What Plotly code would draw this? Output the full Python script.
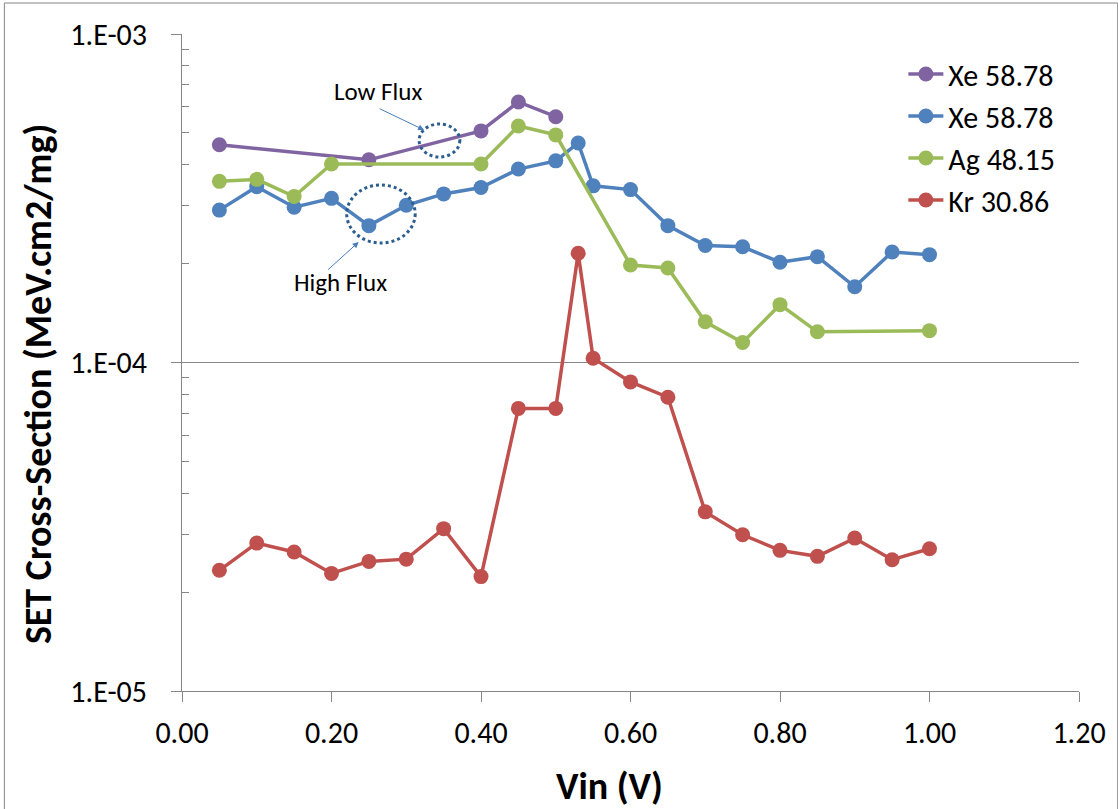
import plotly.graph_objects as go

# ---- data ----
x_xe_low = [0.05, 0.25, 0.40, 0.45, 0.50]
y_xe_low = [4.60e-4, 4.14e-4, 5.07e-4, 6.21e-4, 5.60e-4]

x_xe_high = [0.05, 0.10, 0.15, 0.20, 0.25, 0.30, 0.35, 0.40, 0.45, 0.50, 0.53,
             0.55, 0.60, 0.65, 0.70, 0.75, 0.80, 0.85, 0.90, 0.95, 1.00]
y_xe_high = [2.91e-4, 3.43e-4, 2.97e-4, 3.16e-4, 2.61e-4, 3.01e-4, 3.26e-4, 3.41e-4,
             3.88e-4, 4.11e-4, 4.66e-4, 3.45e-4, 3.36e-4, 2.61e-4, 2.27e-4, 2.25e-4,
             2.02e-4, 2.10e-4, 1.70e-4, 2.17e-4, 2.13e-4]

x_ag = [0.05, 0.10, 0.15, 0.20, 0.40, 0.45, 0.50, 0.60, 0.65, 0.70, 0.75, 0.80, 0.85, 1.00]
y_ag = [3.56e-4, 3.61e-4, 3.20e-4, 4.02e-4, 4.02e-4, 5.25e-4, 4.93e-4, 1.98e-4,
        1.94e-4, 1.33e-4, 1.15e-4, 1.50e-4, 1.24e-4, 1.25e-4]

x_kr = [0.05, 0.10, 0.15, 0.20, 0.25, 0.30, 0.35, 0.40, 0.45, 0.50, 0.53,
        0.55, 0.60, 0.65, 0.70, 0.75, 0.80, 0.85, 0.90, 0.95, 1.00]
y_kr = [2.33e-5, 2.82e-5, 2.65e-5, 2.28e-5, 2.48e-5, 2.52e-5, 3.12e-5, 2.23e-5,
        7.25e-5, 7.25e-5, 2.15e-4, 1.03e-4, 8.73e-5, 7.84e-5, 3.51e-5, 2.99e-5,
        2.68e-5, 2.57e-5, 2.92e-5, 2.51e-5, 2.71e-5]

series_names = ["Xe 58.78", "Xe 58.78", "Ag 48.15", "Kr 30.86"]
x_tick_vals = [0.0, 0.2, 0.4, 0.6, 0.8, 1.0, 1.2]
x_tick_text = ["0.00", "0.20", "0.40", "0.60", "0.80", "1.00", "1.20"]
y_tick_vals = [1e-5, 1e-4, 1e-3]
y_tick_text = ["1.E-05", "1.E-04", "1.E-03"]
y_minor_vals = [k * 1e-5 for k in range(2, 10)] + [k * 1e-4 for k in range(2, 10)]

colors = ["#8064A2", "#4F81BD", "#9BBB59", "#C0504D"]
FONT = "Carlito, Calibri, Lato, sans-serif"

fig = go.Figure()
for xs, ys, name, c in zip([x_xe_low, x_xe_high, x_ag, x_kr],
                           [y_xe_low, y_xe_high, y_ag, y_kr],
                           series_names, colors):
    fig.add_trace(go.Scatter(x=xs, y=ys, name=name, mode="lines+markers",
                             line=dict(color=c, width=3.5),
                             marker=dict(color=c, size=15)))

W, H = 1118, 809
L, R, T, B = 182, 32, 34, 118
pw, ph = W - L - R, H - T - B


def px(x):
    return (x - L) / pw


def py(y):
    return (H - B - y) / ph


grid = "#868686"
fig.update_layout(
    width=W, height=H,
    margin=dict(l=L, r=R, t=T, b=B),
    paper_bgcolor="white", plot_bgcolor="white",
    font=dict(family=FONT, color="black"),
    showlegend=True,
    legend=dict(x=px(909), y=py(48), xanchor="left", yanchor="top",
                font=dict(size=30, family=FONT), bgcolor="rgba(0,0,0,0)",
                itemwidth=35),
    xaxis=dict(range=[0, 1.2], tickvals=x_tick_vals, ticktext=x_tick_text,
               ticks="outside", ticklen=10, tickcolor=grid, showgrid=False,
               showline=True, linecolor=grid, linewidth=1, zeroline=False,
               tickfont=dict(size=30, family=FONT), ticklabelstandoff=5),
    yaxis=dict(type="log", range=[-5, -3], tickvals=y_tick_vals, ticktext=y_tick_text,
               ticks="outside", ticklen=10, tickcolor=grid, showgrid=True,
               gridcolor=grid, gridwidth=1, showline=True, linecolor=grid,
               linewidth=1, zeroline=False,
               tickfont=dict(size=30, family=FONT), ticklabelstandoff=18,
               minor=dict(ticks="inside", ticklen=7, tickcolor=grid,
                          tickmode="array", tickvals=y_minor_vals, showgrid=False)),
)

ann_col = "#4A7EBB"
circ_col = "#2C5D8F"
fig.add_annotation(xref="paper", yref="paper", x=px(613), y=py(786),
                   text="<b>Vin (V)</b>", showarrow=False,
                   font=dict(size=38, family=FONT), xanchor="center", yanchor="middle")
fig.add_annotation(xref="paper", yref="paper", x=px(37), y=py(384),
                   text="<b>SET Cross-Section (MeV.cm2/mg)</b>", showarrow=False,
                   textangle=-90, font=dict(size=38, family=FONT),
                   xanchor="center", yanchor="middle")
fig.add_annotation(xref="paper", yref="paper", x=px(380), y=py(91),
                   text="Low Flux", showarrow=False, font=dict(size=25, family=FONT),
                   xanchor="center", yanchor="middle")
fig.add_annotation(xref="paper", yref="paper", x=px(342), y=py(282),
                   text="High Flux", showarrow=False, font=dict(size=25, family=FONT),
                   xanchor="center", yanchor="middle")
fig.add_annotation(xref="paper", yref="paper", x=px(426), y=py(130), text="",
                   showarrow=True, ax=-46, ay=-22, arrowhead=2, arrowsize=1.2,
                   arrowwidth=1, arrowcolor=ann_col)
fig.add_annotation(xref="paper", yref="paper", x=px(360), y=py(242), text="",
                   showarrow=True, ax=-32, ay=29, arrowhead=2, arrowsize=1.2,
                   arrowwidth=1, arrowcolor=ann_col)
fig.add_shape(type="circle", xref="paper", yref="paper",
              x0=px(421), x1=px(462), y0=py(157), y1=py(124),
              line=dict(color=circ_col, width=3, dash="dot"))
fig.add_shape(type="circle", xref="paper", yref="paper",
              x0=px(348), x1=px(417), y0=py(243), y1=py(185),
              line=dict(color=circ_col, width=3, dash="dot"))
fig.add_shape(type="rect", xref="paper", yref="paper",
              x0=px(3), x1=px(1125), y0=py(815), y1=py(3),
              line=dict(color="#868686", width=1), layer="below")

fig.write_html("out.html")
